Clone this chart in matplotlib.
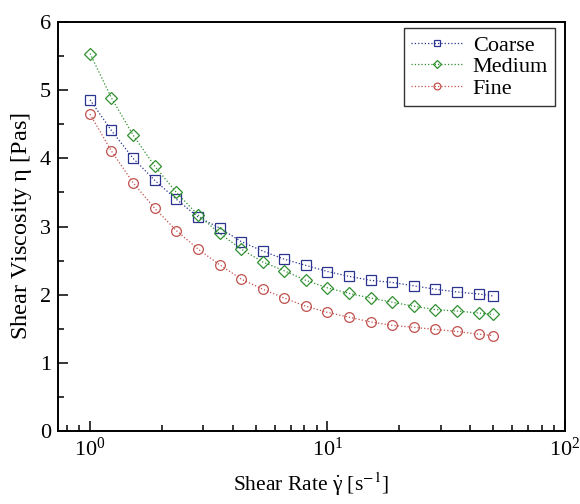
import numpy as np
import matplotlib
matplotlib.use('Agg')
import matplotlib.pyplot as plt
from matplotlib.ticker import MultipleLocator, LogLocator

plt.rcParams['font.family'] = ['Liberation Serif', 'DejaVu Serif']
plt.rcParams['mathtext.fontset'] = 'stix'

# shear rate [1/s]
rate = [1, 1.23, 1.52, 1.87, 2.31, 2.85, 3.51, 4.33, 5.34, 6.58,
        8.11, 10, 12.3, 15.2, 18.7, 23.1, 28.5, 35.1, 43.3, 50]

# viscosity [Pa s]
coarse = [4.86, 4.41, 4.00, 3.68, 3.40, 3.14, 2.98, 2.78, 2.64, 2.52,
          2.43, 2.34, 2.27, 2.21, 2.18, 2.13, 2.08, 2.04, 2.01, 1.98]
medium = [5.54, 4.89, 4.34, 3.89, 3.50, 3.17, 2.90, 2.67, 2.48, 2.35,
          2.21, 2.10, 2.02, 1.95, 1.89, 1.83, 1.78, 1.76, 1.73, 1.71]
fine = [4.65, 4.11, 3.64, 3.27, 2.94, 2.67, 2.44, 2.23, 2.08, 1.95,
        1.83, 1.74, 1.67, 1.60, 1.55, 1.52, 1.49, 1.46, 1.42, 1.40]

fig = plt.figure(figsize=(5.8, 5.04), dpi=100)
ax = fig.add_axes([0.1, 0.145, 0.874, 0.811])

series = [
    (coarse, 'Coarse', 's', '#2b3590'),
    (medium, 'Medium', 'D', '#2f8f2f'),
    (fine, 'Fine', 'o', '#c0504d'),
]
for vals, name, mk, col in series:
    ax.plot(rate, vals, linestyle=':', linewidth=0.9, color=col,
            marker=mk, markersize=7 if mk != 'D' else 6.5,
            markerfacecolor='none', markeredgecolor=col,
            markeredgewidth=0.9, label=name)

ax.set_xscale('log')
ax.set_xlim(0.733, 100)
ax.set_ylim(0, 6)
ax.yaxis.set_major_locator(MultipleLocator(1))
ax.yaxis.set_minor_locator(MultipleLocator(0.5))
ax.xaxis.set_minor_locator(LogLocator(base=10, subs=np.arange(2, 10) * 0.1 * 10, numticks=20))

ax.tick_params(which='both', direction='in', top=False, right=False,
               labelsize=16, width=1.1)
ax.tick_params(which='major', length=7, pad=5)
ax.tick_params(which='minor', length=4)
for s in ax.spines.values():
    s.set_linewidth(1.4)

ax.set_xlabel(r'Shear Rate $\mathregular{\dot{\gamma}}$ [s$^{-1}$]', fontsize=15.5, labelpad=7)
ax.set_ylabel(r'Shear Viscosity $\mathregular{\eta}$ [Pas]', fontsize=17.5, labelpad=4)

leg = ax.legend(loc='upper right', bbox_to_anchor=(0.98, 0.985), borderaxespad=0,
                fontsize=16, frameon=True, fancybox=False, markerscale=0.7,
                edgecolor='black', handlelength=2.4, borderpad=0.3,
                labelspacing=0.05, handletextpad=0.4)
leg.get_frame().set_linewidth(1.0)

fig.savefig('out.png', dpi=100)
